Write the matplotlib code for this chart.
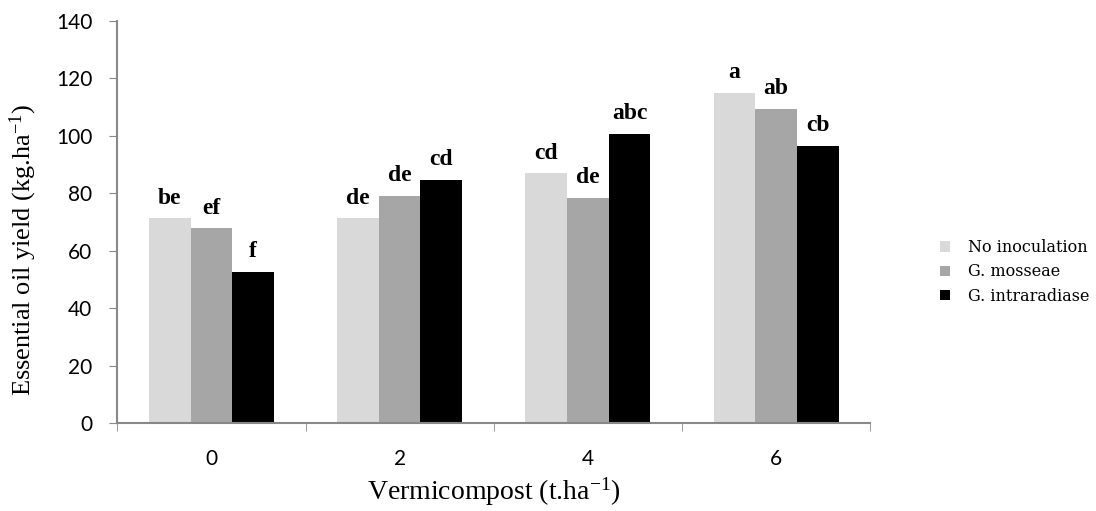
import matplotlib
matplotlib.use("Agg")
import matplotlib.pyplot as plt
import numpy as np

plt.rcParams["mathtext.fontset"] = "custom"
plt.rcParams["mathtext.rm"] = "Liberation Serif"
plt.rcParams["mathtext.it"] = "Liberation Serif:italic"

# data
doses = ["0", "2", "4", "6"]
series = ["No inoculation", "G. mosseae", "G. intraradiase"]
no_inoc = [71.3, 71.3, 86.9, 114.9]
mosseae = [67.8, 79.1, 78.3, 109.3]
intrarad = [52.7, 84.7, 100.7, 96.5]
letters_no = ["be", "de", "cd", "a"]
letters_mo = ["ef", "de", "de", "ab"]
letters_in = ["f", "cd", "abc", "cb"]

colors = ["#d9d9d9", "#a6a6a6", "#000000"]
values = [no_inoc, mosseae, intrarad]
letters = [letters_no, letters_mo, letters_in]

fig = plt.figure(figsize=(10.96, 5.11), dpi=100)
ax = fig.add_axes([0.107, 0.172, 0.687, 0.787])

x = np.arange(len(doses))
w = 0.221
for i in range(3):
    pos = x + (i - 1) * w
    bars = ax.bar(pos, values[i], width=w, color=colors[i], label=series[i])
    for b, lab in zip(bars, letters[i]):
        ax.annotate(lab, (b.get_x() + b.get_width() / 2, b.get_height()),
                    xytext=(0, 7), textcoords="offset points",
                    ha="center", va="bottom", fontsize=17, fontweight="bold",
                    family="Liberation Serif")

ax.set_xlim(-0.5, 3.5)
ax.set_ylim(0, 140)
ax.set_yticks(range(0, 141, 20))
ax.set_xticks(x)
ax.set_xticklabels(doses)
ax.set_xticks(np.arange(-0.5, 4.0, 1.0), minor=True)
ax.tick_params(axis="x", which="major", length=0, pad=19, labelsize=15)
ax.tick_params(axis="x", which="minor", length=6, color="#888888", direction="out")
ax.tick_params(axis="y", length=6, color="#888888", labelsize=15, direction="out", pad=12)
for t in ax.get_xticklabels() + ax.get_yticklabels():
    t.set_family("Lato")

for s in ["top", "right"]:
    ax.spines[s].set_visible(False)
for s in ["left", "bottom"]:
    ax.spines[s].set_color("#888888")
    ax.spines[s].set_linewidth(1.5)

ax.set_xlabel("Vermicompost (t.ha$^{-1}$)", family="Liberation Serif", fontsize=20, labelpad=4)
ax.set_ylabel("Essential oil yield (kg.ha$^{-1}$)", family="Liberation Serif", fontsize=19, labelpad=8)
ax.yaxis.set_label_coords(-0.104, 0.43)

leg = ax.legend(loc="center left", bbox_to_anchor=(0.858, 0.468), bbox_transform=fig.transFigure,
                frameon=False, borderpad=0, borderaxespad=0,
                prop={"family": "DejaVu Serif", "size": 11.5}, handlelength=0.6,
                handleheight=0.6, labelspacing=0.45, handletextpad=1.1)

fig.savefig("out.png", dpi=100)
